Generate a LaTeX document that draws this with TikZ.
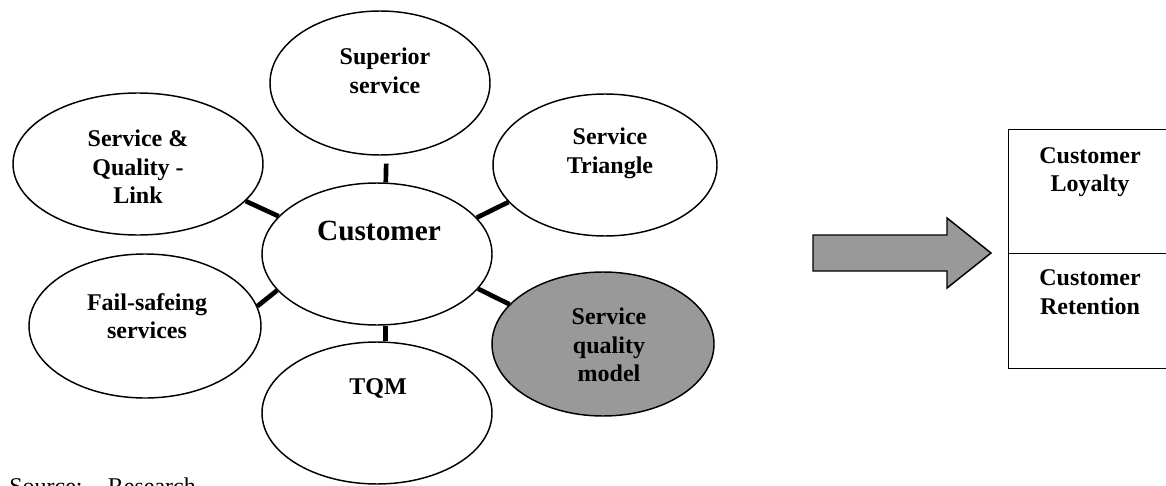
\documentclass[tikz,border=0pt]{standalone}
\usepackage{fontspec}
\setmainfont{Liberation Serif}
\usetikzlibrary{shapes.geometric}
\definecolor{shade}{RGB}{153,153,153}
\tikzset{
  oval/.style={ellipse, draw=black, line width=1.1pt, inner sep=0pt},
  lbl/.style={font=\fontsize{18}{21.5}\selectfont\bfseries, align=center, inner sep=0pt},
  biglbl/.style={font=\fontsize{22}{26}\selectfont\bfseries, align=center, inner sep=0pt},
  link/.style={line width=3.5pt},
  cell/.style={draw=black, line width=1.1pt, rectangle, inner sep=0pt, anchor=north west},
}
\begin{document}
\begin{tikzpicture}[x=0.75pt, y=-0.75pt]
\clip (0,0) rectangle (1166,485);
\useasboundingbox (0,0) rectangle (1166,485);

% ellipses of the cluster
\node[oval, minimum width=165pt, minimum height=108pt] (sup) at (380,83) {};
\node[oval, minimum width=187.5pt, minimum height=106.5pt] (sql) at (138,164) {};
\node[oval, minimum width=168pt, minimum height=106.5pt] (tri) at (605,165) {};
\node[oval, minimum width=172.5pt, minimum height=106.5pt] (cust) at (377,254) {};
\node[oval, minimum width=174pt, minimum height=108pt] (fail) at (145,326) {};
\node[oval, minimum width=172.5pt, minimum height=106.5pt] (tqm) at (377,413) {};
\node[oval, fill=shade, minimum width=166.5pt, minimum height=108pt] (sqm) at (603,344) {};

% labels
\node[lbl] (supT) at (385,71) {Superior\\service};
\node[lbl] (sqlT) at (138,167) {Service \&\\Quality -\\Link};
\node[lbl] (triT) at (610,153) {Service\\Triangle};
\node[biglbl] (custT) at (379,231) {Customer};
\node[lbl] (failT) at (147,316) {Fail-safeing\\services};
\node[lbl] (tqmT) at (378,388) {TQM};
\node[lbl] (sqmT) at (609,345) {Service\\quality\\model};

% links between the centre and the outer ellipses
\draw[link, shorten >=6pt] (cust.83) -- (sup.-85);
\draw[link] (cust.-83) -- (tqm.83);
\draw[link] (cust.159.5) -- (sql.-19.2);
\draw[link] (cust.20.3) -- (tri.-159.6);
\draw[link] (cust.200.8) -- (fail.10);
\draw[link] (cust.-19.3) -- (sqm.157.8);

% block arrow
\draw[fill=shade, line width=1.1pt, line join=miter]
  (813,235) -- (947,235) -- (947,218) -- (991,253) -- (947,288) -- (947,271) -- (813,271) -- cycle;

% outcome box
\node[cell, minimum width=127.5pt, minimum height=93pt] (loyal) at (1008,129) {};
\node[cell, minimum width=127.5pt, minimum height=86.25pt] (retain) at (1008,253) {};
\node[lbl] (loyalT) at (1090,172) {Customer\\Loyalty};
\node[lbl] (retainT) at (1090,292) {Customer\\Retention};

% source note
\node[font=\fontsize{18}{21.5}\selectfont, anchor=base west, inner sep=0pt] (src) at (9,494) {Source:\hspace{19pt}Research};
\end{tikzpicture}
\end{document}
